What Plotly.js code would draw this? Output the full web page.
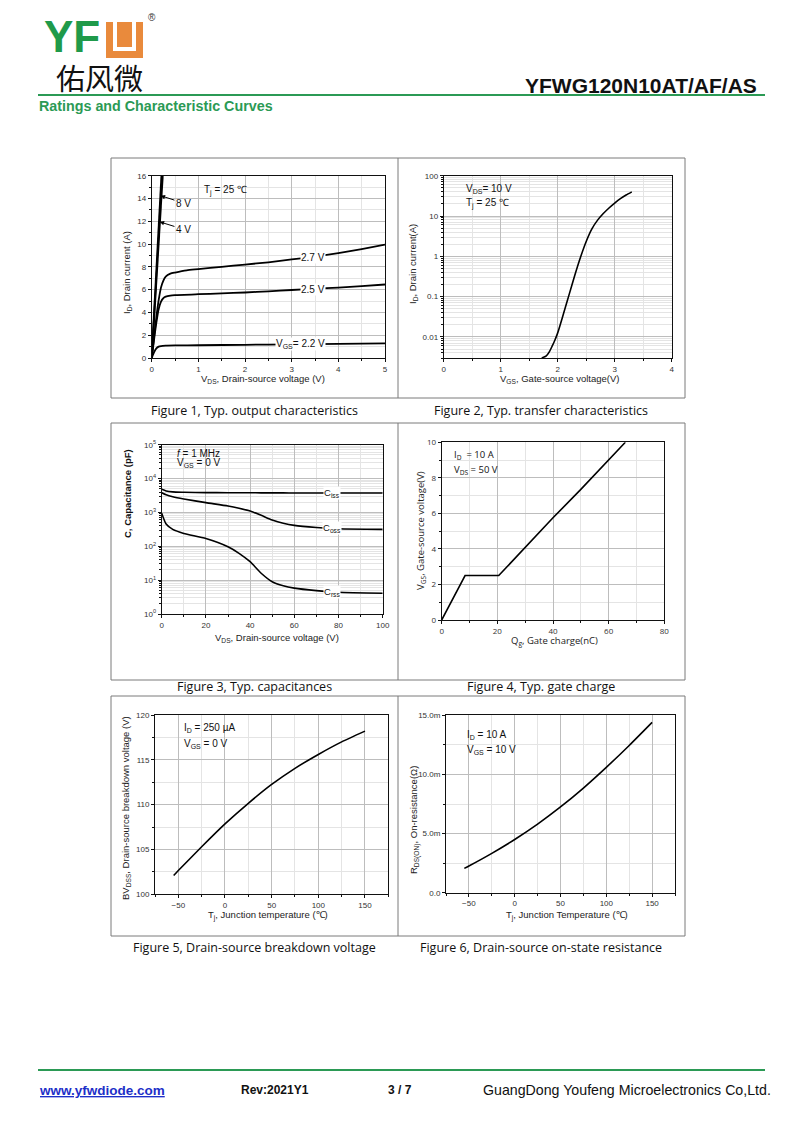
<!DOCTYPE html>
<html><head><meta charset="utf-8">
<script src="https://cdn.plot.ly/plotly-3.0.1.min.js"></script>
<style>html,body{margin:0;padding:0;background:#fff}#chart{width:800px;height:1130px}</style>
</head><body><div id="chart"></div>
<script>
// ---------- Figure 1: output characteristics ----------
const f1_vds_8v = [0, 0.21];
const f1_id_8v  = [0, 16];
const f1_vds_4v = [0, 0.235];
const f1_id_4v  = [0, 16];
const f1_vds_27 = [0, 0.05, 0.1, 0.15, 0.2, 0.25, 0.3, 0.4, 0.5, 0.75, 1, 1.5, 2, 2.5, 3, 3.5, 4, 4.5, 5];
const f1_id_27  = [0, 1.8, 3.6, 5.1, 6.2, 6.8, 7.15, 7.4, 7.5, 7.7, 7.8, 8.0, 8.2, 8.4, 8.65, 8.9, 9.2, 9.55, 9.95];
const f1_vds_25 = [0, 0.05, 0.1, 0.15, 0.2, 0.25, 0.3, 0.4, 0.5, 1, 1.5, 2, 2.5, 3, 3.5, 4, 4.5, 5];
const f1_id_25  = [0, 1.6, 3.1, 4.3, 4.95, 5.25, 5.38, 5.48, 5.52, 5.6, 5.67, 5.75, 5.85, 5.97, 6.07, 6.18, 6.3, 6.45];
const f1_vds_22 = [0, 0.05, 0.1, 0.15, 0.2, 0.3, 0.5, 1, 2, 3, 4, 5];
const f1_id_22  = [0, 0.5, 0.85, 1.0, 1.05, 1.08, 1.1, 1.12, 1.16, 1.2, 1.24, 1.28];
// ---------- Figure 2: transfer characteristics ----------
const f2_vgs = [1.72, 1.8, 1.85, 1.9, 1.95, 2.0, 2.1, 2.2, 2.3, 2.4, 2.5, 2.6, 2.7, 2.8, 2.9, 3.0, 3.1, 3.2, 3.3];
const f2_id  = [0.003, 0.0034, 0.0042, 0.0058, 0.0083, 0.0126, 0.037, 0.112, 0.34, 0.95, 2.34, 4.8, 7.9, 11.5, 15.8, 20.9, 26.9, 33.1, 39.8];
// ---------- Figure 3: capacitances ----------
const f3_vds  = [0, 2, 5, 10, 20, 30, 35, 40, 45, 50, 55, 60, 70, 80, 100];
const f3_ciss = [4800, 4300, 4050, 3950, 3850, 3820, 3810, 3800, 3790, 3780, 3770, 3760, 3750, 3740, 3730];
const f3_coss = [3800, 3300, 2900, 2500, 1950, 1550, 1330, 1100, 820, 600, 480, 415, 360, 330, 316];
const f3_crss = [950, 455, 316, 240, 170, 97, 62, 35, 16, 9.0, 6.8, 5.8, 4.9, 4.4, 4.1];
// ---------- Figure 4: gate charge ----------
const f4_qg  = [0, 1, 2, 4, 6, 8.4, 20.5, 30, 40, 50, 60, 66];
const f4_vgs = [0, 0.3, 0.6, 1.2, 1.8, 2.5, 2.5, 4.1, 5.75, 7.35, 9.0, 10];
// ---------- Figure 5: breakdown voltage ----------
const f5_tj = [-55, -50, -25, 0, 25, 50, 75, 100, 125, 150];
const f5_bv = [102.1, 102.65, 105.3, 107.85, 110.15, 112.25, 114.05, 115.6, 117.0, 118.2];
// ---------- Figure 6: on-resistance ----------
const f6_tj    = [-55, -50, -25, 0, 25, 50, 75, 100, 125, 150];
const f6_rdson = [0.00206, 0.00226, 0.00333, 0.0045, 0.0058, 0.00725, 0.00885, 0.0106, 0.01245, 0.0144];
// tick labels
const f3_tickvals = [1, 10, 100, 1000, 10000, 100000];
const f3_ticktext = ['10<sup>0</sup>', '10<sup>1</sup>', '10<sup>2</sup>', '10<sup>3</sup>', '10<sup>4</sup>', '10<sup>5</sup>'];
const f2_tickvals = [0.01, 0.1, 1, 10, 100];
const f2_ticktext = ['0.01', '0.1', '1', '10', '100'];
const f6_tickvals = [0, 0.005, 0.01, 0.015];
const f6_ticktext = ['0.0', '5.0m', '10.0m', '15.0m'];

const W = 800, H = 1130;
const px = v => v / W, py = v => 1 - v / H;
const ARIAL = 'Liberation Sans, Arial, sans-serif';
const SEGOE = 'Open Sans, Noto Sans, sans-serif';
const GREEN = '#2b9a55';

function axis(d0, d1, anchor, extra, vertical, fam) {
  const a = {
    domain: vertical ? [py(d1), py(d0)] : [px(d0), px(d1)],
    anchor: anchor, showline: true, linecolor: '#111', linewidth: 1, mirror: true,
    ticks: 'outside', ticklen: 3, tickcolor: '#111', tickwidth: 1,
    tickfont: {family: fam || ARIAL, size: 8, color: '#333'},
    showgrid: true, gridcolor: '#bdbdbd', gridwidth: 1, zeroline: false, fixedrange: true
  };
  return Object.assign(a, extra);
}
function minor(dt) { return {dtick: dt, showgrid: true, gridcolor: '#e4e4e4', gridwidth: 1, ticks: 'outside', ticklen: 2, tickcolor: '#111'}; }

const L = (x, y, xa, ya, w, shape) => ({x: x, y: y, xaxis: xa, yaxis: ya, mode: 'lines', hoverinfo: 'skip',
  line: {color: '#000', width: w || 1.6, shape: shape || 'spline', smoothing: 0.6}});

const data = [
  L(f1_vds_8v, f1_id_8v, 'x', 'y', 2, 'linear'),
  L(f1_vds_4v, f1_id_4v, 'x', 'y', 2, 'linear'),
  L(f1_vds_27, f1_id_27, 'x', 'y', 1.8),
  L(f1_vds_25, f1_id_25, 'x', 'y', 1.8),
  L(f1_vds_22, f1_id_22, 'x', 'y', 1.8),
  L(f2_vgs, f2_id, 'x2', 'y2', 1.6),
  L(f3_vds, f3_ciss, 'x3', 'y3', 1.6),
  L(f3_vds, f3_coss, 'x3', 'y3', 1.6),
  L(f3_vds, f3_crss, 'x3', 'y3', 1.6),
  L(f4_qg, f4_vgs, 'x4', 'y4', 1.6, 'linear'),
  L(f5_tj, f5_bv, 'x5', 'y5', 1.6),
  L(f6_tj, f6_rdson, 'x6', 'y6', 1.6)
];

const layout = {
  width: W, height: H, margin: {l: 0, r: 0, t: 0, b: 0}, showlegend: false,
  paper_bgcolor: '#fff', plot_bgcolor: '#fff',
  xaxis:  axis(151.7, 385, 'y',  {range: [0, 5], dtick: 1, minor: minor(0.5)}),
  yaxis:  axis(175.7, 358, 'x',  {range: [0, 16], dtick: 2, minor: minor(1)}, true),
  xaxis2: axis(443.7, 671.7, 'y2', {range: [0, 4], dtick: 1, minor: minor(0.5)}),
  yaxis2: axis(175.7, 358, 'x2', {type: 'log', range: [Math.log10(0.003), 2], tickvals: f2_tickvals, ticktext: f2_ticktext, minor: minor('D1')}, true),
  xaxis3: axis(161.7, 382.7, 'y3', {range: [0, 100], dtick: 20, minor: minor(10)}),
  yaxis3: axis(444.7, 614, 'x3', {type: 'log', range: [0, 5], tickvals: f3_tickvals, ticktext: f3_ticktext, minor: minor('D1')}, true),
  xaxis4: axis(441.7, 664.3, 'y4', {range: [0, 80], dtick: 20, minor: minor(10)}, false, SEGOE),
  yaxis4: axis(442.3, 620, 'x4', {range: [0, 10], dtick: 2, minor: minor(1)}, true, SEGOE),
  xaxis5: axis(155, 388.3, 'y5', {range: [-75, 175], tickvals: [-50, 0, 50, 100, 150], minor: minor(25)}),
  yaxis5: axis(715, 894.3, 'x5', {range: [100, 120], dtick: 5, minor: minor(2.5)}, true),
  xaxis6: axis(446, 675, 'y6', {range: [-75, 175], tickvals: [-50, 0, 50, 100, 150], minor: minor(25)}),
  yaxis6: axis(715.3, 892.7, 'x6', {range: [0, 0.015], tickvals: f6_tickvals, ticktext: f6_ticktext, minor: minor(0.0025)}, true),
  shapes: [], annotations: []
};

const S = layout.shapes, A = layout.annotations;
const frame = {color: '#7a7a7a', width: 1};
[[158, 398], [423, 680], [696, 936]].forEach(r => {
  S.push({type: 'rect', xref: 'paper', yref: 'paper', x0: px(111), x1: px(685), y0: py(r[1]), y1: py(r[0]), line: frame});
  S.push({type: 'line', xref: 'paper', yref: 'paper', x0: px(398), x1: px(398), y0: py(r[1]), y1: py(r[0]), line: frame});
});
S.push({type: 'line', xref: 'paper', yref: 'paper', x0: px(38), x1: px(765), y0: py(95), y1: py(95), line: {color: GREEN, width: 2.2}});
S.push({type: 'line', xref: 'paper', yref: 'paper', x0: px(38), x1: px(765), y0: py(1070), y1: py(1070), line: {color: GREEN, width: 2.2}});
S.push({type: 'rect', xref: 'paper', yref: 'paper', x0: px(106), x1: px(143), y0: py(58), y1: py(22), fillcolor: '#e98a3c', line: {width: 0}});
S.push({type: 'path', xref: 'paper', yref: 'paper', path: `M ${px(115)} ${py(22)} L ${px(115)} ${py(49)} L ${px(134)} ${py(49)} L ${px(134)} ${py(22)}`, line: {color: '#fff', width: 4}});

function T(text, x, y, o) {
  return Object.assign({text: text, x: px(x), y: py(y), xref: 'paper', yref: 'paper', showarrow: false,
    xanchor: 'center', yanchor: 'middle', font: {family: ARIAL, size: 10, color: '#111'}}, o || {});
}
A.push(T('YF', 42, 36, {xanchor: 'left', font: {family: ARIAL, size: 44, color: '#1f9a4a', weight: 'bold'}}));
A.push(T('®', 152, 18, {font: {family: ARIAL, size: 10, color: '#333'}}));
A.push(T('佑风微', 99, 77, {font: {family: 'Noto Sans CJK SC', size: 29, color: '#111'}}));
A.push(T('<b>YFWG120N10AT/AF/AS</b>', 759, 86, {xanchor: 'right', font: {family: ARIAL, size: 21, color: '#111'}}));
A.push(T('<b>Ratings and Characteristic Curves</b>', 37, 106, {xanchor: 'left', font: {family: ARIAL, size: 14.3, color: GREEN}}));
A.push(T('<b><u>www.yfwdiode.com</u></b>', 37, 1090, {xanchor: 'left', font: {family: ARIAL, size: 13.5, color: '#1d2fc8'}}));
A.push(T('<b>Rev:2021Y1</b>', 239, 1090, {xanchor: 'left', font: {family: ARIAL, size: 12, color: '#111'}}));
A.push(T('<b>3 / 7</b>', 386, 1090, {xanchor: 'left', font: {family: ARIAL, size: 12, color: '#111'}}));
A.push(T('GuangDong Youfeng Microelectronics Co,Ltd.', 481, 1090, {xanchor: 'left', font: {family: ARIAL, size: 14.2, color: '#111'}}));
const capFont = {family: SEGOE, size: 12.5, color: '#111'};
A.push(T('Figure 1, Typ. output characteristics', 254, 410, {font: capFont}));
A.push(T('Figure 2, Typ. transfer characteristics', 541, 410, {font: capFont}));
A.push(T('Figure 3, Typ. capacitances', 254, 686, {font: capFont}));
A.push(T('Figure 4, Typ. gate charge', 541, 686, {font: capFont}));
A.push(T('Figure 5, Drain-source breakdown voltage', 254, 947, {font: capFont}));
A.push(T('Figure 6, Drain-source on-state resistance', 541, 947, {font: capFont}));
const atF = {family: ARIAL, size: 9.5, color: '#222'};
const atS = {family: SEGOE, size: 9.5, color: '#222'};
A.push(T('I<sub>D</sub>, Drain current (A)', 127, 273, {textangle: -90, font: atF}));
A.push(T('V<sub>DS</sub>, Drain-source voltage (V)', 263, 379, {font: atF}));
A.push(T('I<sub>D</sub>, Drain current(A)', 413, 264, {textangle: -90, font: atF}));
A.push(T('V<sub>GS</sub>, Gate-source voltage(V)', 559, 379, {font: atF}));
A.push(T('<b>C, Capacitance (pF)</b>', 128, 494, {textangle: -90, font: {family: ARIAL, size: 9.5, color: '#111'}}));
A.push(T('V<sub>DS</sub>, Drain-source voltage (V)', 277, 638, {font: atF}));
A.push(T('V<sub>GS</sub>, Gate-source voltage(V)', 421, 531, {textangle: -90, font: atS}));
A.push(T('Q<sub>g</sub>, Gate charge(nC)', 554, 641, {font: atS}));
A.push(T('BV<sub>DSS</sub>, Drain-source breakdown voltage (V)', 126, 808, {textangle: -90, font: atF}));
A.push(T('T<sub>j</sub>, Junction temperature (℃)', 268, 915, {font: atF}));
A.push(T('R<sub>DS(ON)</sub>, On-resistance(Ω)', 414, 820, {textangle: -90, font: atF}));
A.push(T('T<sub>j</sub>, Junction Temperature (℃)', 567, 915, {font: atF}));

function D(text, x, y, xr, yr, o) {
  return Object.assign({text: text, x: x, y: y, xref: xr, yref: yr, showarrow: false, xanchor: 'center', yanchor: 'middle',
    font: {family: ARIAL, size: 10, color: '#111'}}, o || {});
}
A.push(D('T<sub>j</sub> = 25 ℃', 1.07, 14.7, 'x', 'y', {xanchor: 'left'}));
A.push(D('8 V', 0.19, 14.25, 'x', 'y', {showarrow: true, axref: 'x', ayref: 'y', ax: 0.68, ay: 13.6, arrowhead: 2, arrowsize: 0.9, arrowwidth: 1, arrowcolor: '#000', standoff: 0}));
A.push(D('4 V', 0.17, 11.95, 'x', 'y', {showarrow: true, axref: 'x', ayref: 'y', ax: 0.68, ay: 11.3, arrowhead: 2, arrowsize: 0.9, arrowwidth: 1, arrowcolor: '#000', standoff: 0}));
A.push(D('2.7 V', 3.45, 8.8, 'x', 'y', {bgcolor: '#fff', borderpad: 0}));
A.push(D('2.5 V', 3.45, 6.02, 'x', 'y', {bgcolor: '#fff', borderpad: 0}));
A.push(D('V<sub>GS</sub>= 2.2 V', 3.18, 1.25, 'x', 'y', {bgcolor: '#fff', borderpad: 0}));

A.push(D('V<sub>DS</sub>= 10 V', 0.35, Math.log10(48), 'x2', 'y2', {xanchor: 'left'}));
A.push(D('T<sub>j</sub> = 25 ℃', 0.35, Math.log10(20), 'x2', 'y2', {xanchor: 'left'}));

A.push(D('<i>f</i> = 1 MHz', 6, Math.log10(55000), 'x3', 'y3', {xanchor: 'left'}));
A.push(D('V<sub>GS</sub> = 0 V', 6, Math.log10(28000), 'x3', 'y3', {xanchor: 'left'}));
const cf = {family: ARIAL, size: 9.5, color: '#111'};
A.push(D('C<sub>iss</sub>', 77, Math.log10(3760), 'x3', 'y3', {bgcolor: '#fff', borderpad: 0, font: cf}));
A.push(D('C<sub>oss</sub>', 77, Math.log10(340), 'x3', 'y3', {bgcolor: '#fff', borderpad: 0, font: cf}));
A.push(D('C<sub>rss</sub>', 77, Math.log10(4.6), 'x3', 'y3', {bgcolor: '#fff', borderpad: 0, font: cf}));

A.push(D('I<sub>D</sub>  = 10 A', 3.6, 9.3, 'x4', 'y4', {xanchor: 'left', font: {family: SEGOE, size: 9.5, color: '#111'}}));
A.push(D('V<sub>DS</sub> = 50 V', 3.6, 8.45, 'x4', 'y4', {xanchor: 'left', font: {family: SEGOE, size: 9.5, color: '#111'}}));

A.push(D('I<sub>D</sub> = 250 µA', -46.5, 118.5, 'x5', 'y5', {xanchor: 'left'}));
A.push(D('V<sub>GS</sub> = 0 V', -46.5, 116.8, 'x5', 'y5', {xanchor: 'left'}));

A.push(D('I<sub>D</sub> = 10 A', -54.5, 0.0133, 'x6', 'y6', {xanchor: 'left'}));
A.push(D('V<sub>GS</sub> = 10 V', -54.5, 0.01207, 'x6', 'y6', {xanchor: 'left'}));

Plotly.newPlot('chart', data, layout, {staticPlot: true, displayModeBar: false});
</script>
</body></html>
